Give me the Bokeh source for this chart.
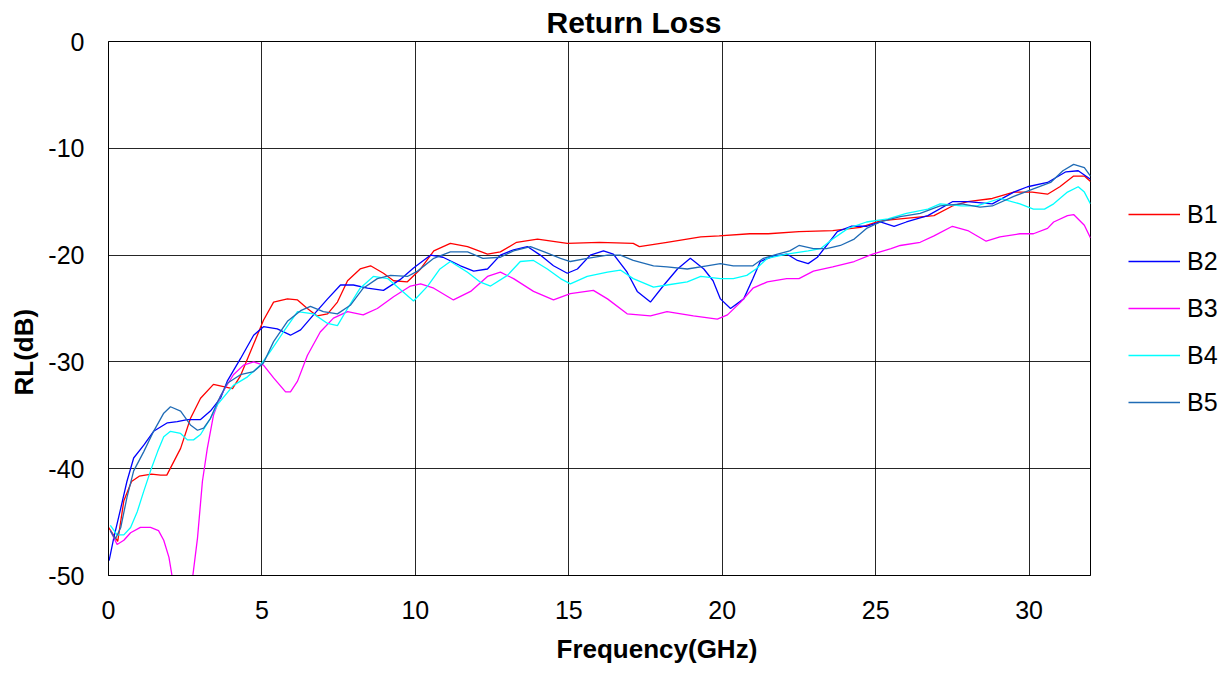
from bokeh.plotting import figure
from bokeh.models import Legend, LegendItem, FixedTicker, Range1d, Title
from bokeh.embed import file_html
from bokeh.resources import INLINE

# ---- data: (frequency GHz, return loss dB) ----
b1 = [(0, -45.5), (0.3, -46.8), (0.5, -43.0), (0.75, -41.2), (1.0, -40.7), (1.4, -40.5), (1.7, -40.6),
      (1.9, -40.6), (2.35, -38.1), (2.67, -35.3), (3.0, -33.4), (3.42, -32.1), (4.04, -32.5), (4.3, -31.3),
      (4.72, -28.4), (5.05, -26.1), (5.38, -24.4), (5.83, -24.1), (6.16, -24.2), (6.48, -25.0), (6.8, -25.7),
      (7.14, -25.5), (7.46, -24.4), (7.79, -22.4), (8.2, -21.3), (8.54, -21.0), (8.96, -21.7), (9.29, -22.4),
      (9.74, -22.5), (10.17, -21.3), (10.6, -19.6), (11.14, -18.9), (11.7, -19.2), (12.35, -19.9),
      (12.77, -19.7), (13.3, -18.8), (13.98, -18.5), (14.95, -18.9), (16.0, -18.8), (17.1, -18.9),
      (17.3, -19.2), (18.2, -18.8), (19.3, -18.3), (19.9, -18.2), (20.9, -18.0), (21.5, -18.0),
      (22.5, -17.8), (23.6, -17.7), (24.5, -17.4), (25.15, -16.8), (25.8, -16.6), (26.9, -16.3),
      (27.5, -15.4), (28.0, -15.0), (28.8, -14.7), (29.5, -14.1), (30.1, -14.1), (30.6, -14.3),
      (31.0, -13.6), (31.45, -12.6), (31.8, -12.6), (32.0, -13.1)]

b2 = [(0.02, -48.6), (0.17, -46.5), (0.4, -43.7), (0.6, -41.2), (0.82, -39.0), (1.15, -37.8), (1.47, -36.5),
      (1.92, -35.7), (2.24, -35.6), (2.57, -35.4), (3.0, -35.4), (3.32, -34.6), (3.65, -33.4), (3.87, -31.8),
      (4.3, -29.7), (4.73, -27.5), (5.05, -26.7), (5.5, -26.9), (5.93, -27.5), (6.26, -27.0), (6.68, -25.6),
      (7.14, -24.1), (7.56, -22.8), (7.98, -22.8), (8.44, -23.1), (8.96, -23.3), (9.5, -22.3), (9.94, -21.2),
      (10.5, -20.0), (10.9, -20.2), (11.47, -21.0), (11.9, -21.5), (12.35, -21.3), (12.77, -20.0),
      (13.2, -19.5), (13.65, -19.2), (14.07, -20.0), (14.5, -21.0), (14.95, -21.7), (15.28, -21.3),
      (15.7, -20.0), (16.13, -19.6), (16.45, -19.9), (16.9, -21.6), (17.23, -23.4), (17.66, -24.4),
      (18.1, -22.8), (18.54, -21.3), (18.96, -20.3), (19.4, -21.3), (19.7, -22.4), (19.94, -24.1),
      (20.27, -25.0), (20.7, -24.1), (21.0, -22.2), (21.24, -20.6), (21.67, -20.1), (22.1, -19.9),
      (22.45, -20.5), (22.8, -20.8), (23.1, -20.2), (23.4, -19.1), (23.75, -17.8), (24.2, -17.3),
      (24.7, -17.3), (25.15, -16.9), (25.6, -17.3), (26.0, -16.9), (26.7, -16.3), (27.5, -15.0),
      (28.0, -15.0), (28.8, -15.2), (29.5, -14.1), (29.95, -13.6), (30.6, -13.2), (31.2, -12.2),
      (31.6, -12.1), (32.0, -12.9)]

b3 = [(0.06, -45.8), (0.28, -47.1), (0.5, -46.7), (0.72, -46.0), (1.04, -45.5), (1.37, -45.5), (1.63, -45.8),
      (1.8, -46.7), (1.97, -48.3), (2.08, -50.2), (2.2, -53.0), (2.4, -56.0), (2.6, -53.0), (2.74, -50.2),
      (2.9, -46.5), (3.06, -41.2), (3.22, -38.1), (3.42, -35.0), (3.65, -33.2), (3.75, -32.7), (4.07, -31.2),
      (4.4, -30.3), (4.73, -30.0), (5.05, -30.3), (5.38, -31.5), (5.77, -32.8), (5.93, -32.8), (6.16, -31.8),
      (6.48, -29.4), (6.9, -27.2), (7.33, -25.9), (7.79, -25.3), (8.3, -25.6), (8.76, -25.0), (9.29, -23.9),
      (9.84, -22.9), (10.17, -22.7), (10.6, -23.1), (11.24, -24.2), (11.8, -23.4), (12.35, -22.0),
      (12.77, -21.6), (13.2, -22.2), (13.85, -23.4), (14.5, -24.2), (15.05, -23.6), (15.8, -23.3),
      (16.26, -24.1), (16.9, -25.5), (17.66, -25.7), (18.2, -25.3), (19.06, -25.7), (19.84, -26.0),
      (20.17, -25.6), (20.6, -24.4), (21.0, -23.1), (21.47, -22.5), (22.1, -22.2), (22.5, -22.2),
      (22.97, -21.5), (23.6, -21.1), (24.3, -20.6), (24.9, -19.9), (25.5, -19.4), (25.8, -19.1),
      (26.45, -18.8), (26.9, -18.2), (27.5, -17.3), (28.0, -17.7), (28.6, -18.7), (29.05, -18.3),
      (29.7, -18.0), (30.14, -18.0), (30.6, -17.5), (30.8, -16.9), (31.25, -16.3), (31.45, -16.2),
      (31.8, -17.2), (32.0, -18.4)]

b4 = [(0.06, -45.3), (0.28, -46.2), (0.5, -46.2), (0.72, -45.5), (0.94, -44.0), (1.15, -42.1), (1.37, -40.2),
      (1.6, -38.4), (1.8, -37.0), (2.02, -36.5), (2.35, -36.7), (2.57, -37.3), (2.77, -37.3), (3.0, -36.8),
      (3.32, -35.3), (3.55, -34.0), (4.07, -32.2), (4.53, -31.4), (4.95, -30.3), (5.28, -29.0), (5.7, -27.2),
      (6.16, -25.3), (6.68, -25.5), (7.14, -26.4), (7.46, -26.6), (7.79, -25.0), (8.2, -23.1), (8.63, -22.0),
      (9.1, -22.2), (9.5, -23.2), (9.94, -24.3), (10.4, -22.9), (10.8, -21.3), (11.14, -20.6), (11.7, -21.6),
      (12.1, -22.5), (12.45, -22.9), (13.0, -21.9), (13.42, -20.6), (13.85, -20.5), (14.3, -21.3),
      (14.73, -22.2), (15.05, -22.7), (15.6, -22.0), (16.26, -21.6), (16.68, -21.4), (17.1, -22.2),
      (17.76, -23.0), (18.2, -22.8), (18.86, -22.5), (19.3, -22.0), (19.94, -22.2), (20.36, -22.2),
      (20.8, -21.9), (21.1, -21.3), (21.47, -20.3), (22.1, -19.9), (22.8, -19.6), (23.2, -19.4),
      (23.6, -18.5), (24.1, -17.5), (24.7, -16.9), (25.4, -16.6), (26.0, -16.1), (26.7, -15.7),
      (27.1, -15.2), (27.8, -15.4), (28.3, -15.4), (29.05, -14.7), (29.7, -15.2), (30.14, -15.7),
      (30.5, -15.7), (30.8, -15.2), (31.25, -14.1), (31.6, -13.6), (31.8, -14.1), (32.0, -15.2)]

b5 = [(0.06, -45.8), (0.22, -46.6), (0.4, -45.5), (0.6, -42.7), (0.82, -40.2), (1.15, -38.4), (1.47, -36.5),
      (1.8, -34.8), (2.02, -34.2), (2.35, -34.6), (2.67, -35.9), (2.9, -36.4), (3.1, -36.2), (3.32, -35.3),
      (3.58, -33.6), (3.87, -32.0), (4.3, -31.2), (4.73, -30.9), (5.05, -30.1), (5.38, -28.1), (5.83, -26.2),
      (6.26, -25.2), (6.58, -24.8), (7.0, -25.3), (7.46, -25.5), (7.88, -24.7), (8.3, -23.1), (8.76, -22.2),
      (9.19, -21.9), (9.74, -22.0), (10.07, -21.5), (10.6, -20.3), (11.14, -19.7), (11.7, -19.7),
      (12.2, -20.3), (12.77, -20.2), (13.2, -19.6), (13.75, -19.2), (14.2, -19.7), (14.73, -20.3),
      (15.05, -20.6), (15.6, -20.3), (16.26, -20.0), (16.68, -20.0), (17.1, -20.5), (17.76, -21.0),
      (18.2, -21.1), (18.86, -21.3), (19.5, -21.0), (19.94, -20.8), (20.36, -21.0), (21.0, -21.0),
      (21.34, -20.3), (21.8, -19.9), (22.2, -19.6), (22.5, -19.1), (22.97, -19.4), (23.4, -19.4),
      (23.85, -19.1), (24.3, -18.5), (24.7, -17.5), (25.15, -16.9), (25.8, -16.4), (26.45, -16.1),
      (27.1, -15.4), (27.8, -15.2), (28.4, -15.5), (28.8, -15.4), (29.5, -14.5), (30.14, -13.8),
      (30.7, -13.2), (31.1, -12.1), (31.45, -11.5), (31.8, -11.8), (32.0, -12.6)]

series_names = ["B1", "B2", "B3", "B4", "B5"]
series_data = [b1, b2, b3, b4, b5]
series_colors = ["#FF0000", "#0000FF", "#FF00FF", "#00FFFF", "#1F6BB5"]

x_ticks = [0, 5, 10, 15, 20, 25, 30]
y_ticks = [0, -10, -20, -30, -40, -50]
y_tick_labels = ["0", "-10", "-20", "-30", "-40", "-50"]

FONT = "Liberation Sans"

p = figure(height=665, frame_width=982, output_backend="svg", toolbar_location=None,
           x_range=Range1d(0, 32), y_range=Range1d(-50, 0),
           min_border_left=100, min_border_right=131, min_border_top=34, min_border_bottom=90)

p.title.text = "Return Loss"
p.title.align = "left"
p.title.text_font = FONT
p.title.text_font_size = "30px"
p.title.text_font_style = "bold"
p.title.text_color = "#000000"
p.title.offset = 438
p.title.standoff = 6

# small spacer between the x tick labels and the x-axis title
spacer = Title(text=" ", text_font_size="2px", standoff=6)
p.add_layout(spacer, "below")
# axis titles as Titles so they can sit off-centre like the reference
xlab = Title(text="Frequency(GHz)", align="left", offset=448, vertical_align="bottom", standoff=0,
             text_font=FONT, text_font_size="26px", text_font_style="bold", text_color="#000000")
p.add_layout(xlab, "below")
ylab = Title(text="RL(dB)", align="left", offset=180, vertical_align="bottom", standoff=13,
             text_font=FONT, text_font_size="26px", text_font_style="bold", text_color="#000000")
p.add_layout(ylab, "left")

items = []
for name, data, col in zip(series_names, series_data, series_colors):
    xs = [d[0] for d in data]
    ys = [d[1] for d in data]
    r = p.line(xs, ys, line_color=col, line_width=1.3)
    items.append(LegendItem(label=name, renderers=[r]))

legend = Legend(items=items, location=(38, 158), orientation="vertical",
                glyph_width=52, glyph_height=30, label_height=30, spacing=17,
                label_standoff=7, padding=0, margin=0,
                label_text_font=FONT, label_text_font_size="25px", label_text_color="#000000",
                border_line_color=None, background_fill_alpha=0)
p.add_layout(legend, "right")

p.xaxis.ticker = FixedTicker(ticks=x_ticks)
p.yaxis.ticker = FixedTicker(ticks=y_ticks)
p.yaxis.major_label_overrides = {t: s for t, s in zip(y_ticks, y_tick_labels)}
for ax in (p.xaxis[0], p.yaxis[0]):
    ax.major_label_text_font = FONT
    ax.major_label_text_font_size = "25px"
    ax.major_label_text_color = "#000000"
    ax.axis_line_color = "#000000"
    ax.major_tick_line_color = None
    ax.minor_tick_line_color = None
    ax.major_tick_out = 0
    ax.major_tick_in = 0
    ax.minor_tick_out = 0
    ax.minor_tick_in = 0
p.xaxis.major_label_standoff = 25
p.yaxis.major_label_standoff = 24

p.xgrid.grid_line_color = "#000000"
p.ygrid.grid_line_color = "#000000"
p.xgrid.grid_line_alpha = 0.85
p.ygrid.grid_line_alpha = 0.85
p.outline_line_color = "#000000"
p.outline_line_width = 1

open("out.html", "w").write(file_html(p, INLINE))
